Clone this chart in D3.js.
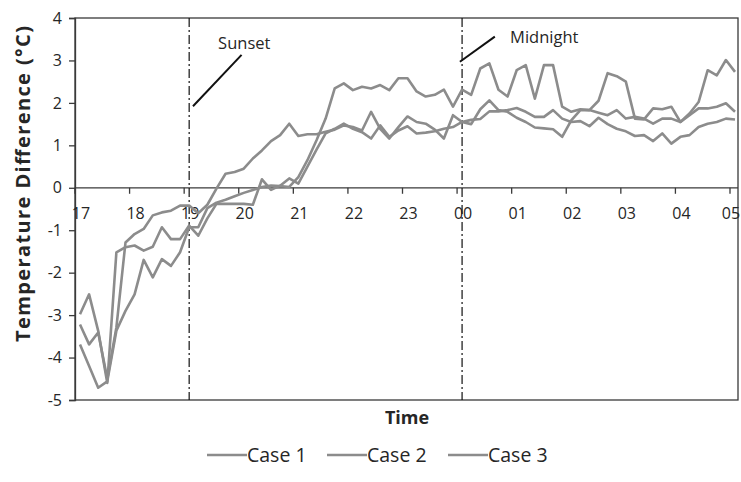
<!DOCTYPE html>
<html>
<head>
<meta charset="utf-8">
<script src="https://cdn.jsdelivr.net/npm/d3@7"></script>
<style>
  body { margin: 0; background: #fff; }
  text { font-family: "Open Sans", "Noto Sans", sans-serif; fill: #262626; }
</style>
</head>
<body>
<script>

var w = 741;
var h = 482;

// 10-minute readings from 17:00 to 05:00
var times = d3.range(73).map(function(i) { return 17 + i / 6; });

var case1 = [-3.22, -3.69, -3.41, -4.50, -3.29, -1.29, -1.09, -0.97, -0.65, -0.58, -0.54, -0.42, -0.42,
  -0.60, -0.40, -0.02, 0.33, 0.37, 0.45, 0.69, 0.88, 1.10, 1.24, 1.51, 1.22,
  1.26, 1.26, 1.32, 1.37, 1.47, 1.43, 1.35, 1.79, 1.39, 1.16, 1.43, 1.68,
  1.55, 1.51, 1.37, 1.16, 1.71, 1.55, 1.60, 1.62, 1.80, 1.80, 1.83, 1.88,
  1.79, 1.67, 1.67, 1.83, 1.63, 1.55, 1.57, 1.45, 1.65, 1.50, 1.39, 1.33,
  1.22, 1.24, 1.10, 1.28, 1.04, 1.20, 1.24, 1.43, 1.51, 1.55, 1.63, 1.61];

var case2 = [-2.98, -2.51, -3.37, -4.60, -1.52, -1.40, -1.36, -1.48, -1.39, -0.93, -1.21, -1.21, -0.89,
  -1.13, -0.72, -0.38, -0.38, -0.38, -0.38, -0.40, 0.20, -0.05, 0.05, 0.22, 0.10,
  0.50, 0.90, 1.28, 1.39, 1.51, 1.39, 1.31, 1.16, 1.47, 1.20, 1.35, 1.45,
  1.28, 1.30, 1.33, 1.39, 1.43, 1.55, 1.50, 1.85, 2.06, 1.83, 1.79, 1.65,
  1.55, 1.42, 1.40, 1.38, 1.20, 1.59, 1.83, 1.83, 1.77, 1.71, 1.83, 1.63,
  1.67, 1.63, 1.51, 1.63, 1.63, 1.55, 1.71, 1.87, 1.87, 1.91, 1.99, 1.79];

var case3 = [-3.69, -4.20, -4.71, -4.56, -3.37, -2.90, -2.51, -1.70, -2.11, -1.68, -1.84, -1.52, -0.93,
  -0.93, -0.48, -0.35, -0.28, -0.20, -0.12, -0.05, 0.02, 0.05, 0.04, 0.02, 0.25,
  0.65, 1.12, 1.63, 2.34, 2.46, 2.30, 2.38, 2.34, 2.42, 2.30, 2.58, 2.58,
  2.27, 2.15, 2.19, 2.31, 1.91, 2.31, 2.19, 2.81, 2.93, 2.31, 2.15, 2.77,
  2.89, 2.10, 2.89, 2.89, 1.91, 1.79, 1.85, 1.83, 2.05, 2.70, 2.63, 2.50,
  1.63, 1.61, 1.87, 1.85, 1.91, 1.55, 1.75, 2.02, 2.77, 2.65, 3.01, 2.73];

var seriesNames = ["Case 1", "Case 2", "Case 3"];
var seriesValues = [case1, case2, case3];

var tickHours = [17, 18, 19, 20, 21, 22, 23, 24, 25, 26, 27, 28, 29];
var tickLabels = ["17", "18", "19", "20", "21", "22", "23", "00", "01", "02", "03", "04", "05"];
var yTicks = [-5, -4, -3, -2, -1, 0, 1, 2, 3, 4];

var plotLeft = 75, plotRight = 738, plotTop = 18, plotBottom = 400;

var svg = d3.select("body")
        .append("svg")
        .attr("width", w)
        .attr("height", h);

var x = d3.scaleLinear().domain([17, 29]).range([80, 735]);
var y = d3.scaleLinear().domain([-5, 4]).range([plotBottom, plotTop]);

// plot frame
svg.append("rect")
    .attr("x", plotLeft).attr("y", plotTop)
    .attr("width", plotRight - plotLeft).attr("height", plotBottom - plotTop)
    .attr("fill", "none").attr("stroke", "#3a3a3a").attr("stroke-width", 1.3);

// y axis
var yAxis = svg.append("g").attr("transform", "translate(" + plotLeft + ",0)")
    .call(d3.axisLeft(y).tickValues(yTicks).tickSize(6).tickPadding(7)
      .tickFormat(function(d) { return String(d); }));
yAxis.select(".domain").attr("stroke", "#3a3a3a").attr("stroke-width", 1.3);
yAxis.selectAll(".tick line").attr("stroke", "#3a3a3a").attr("stroke-width", 1.3);
yAxis.selectAll("text").attr("font-size", 16).attr("fill", "#262626")
    .style("font-family", "'Open Sans', sans-serif");

// x axis through zero
svg.append("line")
    .attr("x1", plotLeft).attr("x2", plotRight)
    .attr("y1", y(0)).attr("y2", y(0))
    .attr("stroke", "#3a3a3a").attr("stroke-width", 1.3);

svg.selectAll("line.xtick")
    .data(tickHours)
    .enter()
    .append("line")
    .attr("class", "xtick")
    .attr("x1", function(d) { return x(d) - 5; })
    .attr("x2", function(d) { return x(d) - 5; })
    .attr("y1", y(0)).attr("y2", y(0) + 6)
    .attr("stroke", "#3a3a3a").attr("stroke-width", 1.3);

svg.selectAll("text.xlab")
    .data(tickHours)
    .enter()
    .append("text")
    .attr("class", "xlab")
    .attr("x", function(d) { return Math.min(x(d) + 1, w - 10); })
    .attr("y", y(0) + 31)
    .attr("text-anchor", "middle")
    .attr("font-size", 16)
    .text(function(d, i) { return tickLabels[i]; });

// sunset / midnight markers
[19, 24].forEach(function(t) {
  svg.append("line")
      .attr("x1", x(t)).attr("x2", x(t))
      .attr("y1", plotTop).attr("y2", plotBottom)
      .attr("stroke", "#111").attr("stroke-width", 1.2)
      .attr("stroke-dasharray", "9,3,2,3");
});

svg.append("line")
    .attr("x1", x(19.07)).attr("y1", y(1.92))
    .attr("x2", x(19.96)).attr("y2", y(3.13))
    .attr("stroke", "#111").attr("stroke-width", 2);
svg.append("text")
    .attr("x", x(19.53)).attr("y", y(3.28))
    .attr("font-size", 16.5)
    .text("Sunset");

svg.append("line")
    .attr("x1", x(23.96)).attr("y1", y(2.97))
    .attr("x2", x(24.6)).attr("y2", y(3.56))
    .attr("stroke", "#111").attr("stroke-width", 2);
svg.append("text")
    .attr("x", x(24.88)).attr("y", y(3.42))
    .attr("font-size", 16.5)
    .text("Midnight");

// series lines
var line = d3.line()
    .x(function(d, i) { return x(times[i]); })
    .y(function(d) { return y(d); });

svg.selectAll("path.series")
    .data(seriesValues)
    .enter()
    .append("path")
    .attr("class", "series")
    .attr("fill", "none")
    .attr("stroke", "#8c8c8c")
    .attr("stroke-width", 2.6)
    .attr("stroke-linejoin", "round")
    .attr("d", line);

// axis titles
svg.append("text")
    .attr("transform", "translate(30,184) rotate(-90)")
    .attr("text-anchor", "middle")
    .attr("font-size", 20)
    .attr("font-weight", "bold")
    .attr("textLength", 316)
    .attr("lengthAdjust", "spacing")
    .text("Temperature Difference (°C)");

svg.append("text")
    .attr("x", 407).attr("y", 424)
    .attr("text-anchor", "middle")
    .attr("font-size", 18)
    .attr("font-weight", "bold")
    .text("Time");

// legend
var legendX = [207, 327, 448];
var legend = svg.selectAll("g.legend")
    .data(seriesNames)
    .enter()
    .append("g")
    .attr("class", "legend")
    .attr("transform", function(d, i) { return "translate(" + legendX[i] + ",455)"; });

legend.append("line")
    .attr("x1", 0).attr("x2", 40)
    .attr("stroke", "#8c8c8c").attr("stroke-width", 2.6);
legend.append("text")
    .attr("x", 40).attr("y", 7)
    .attr("font-size", 19.5)
    .text(function(d) { return d; });

</script>
</body>
</html>
